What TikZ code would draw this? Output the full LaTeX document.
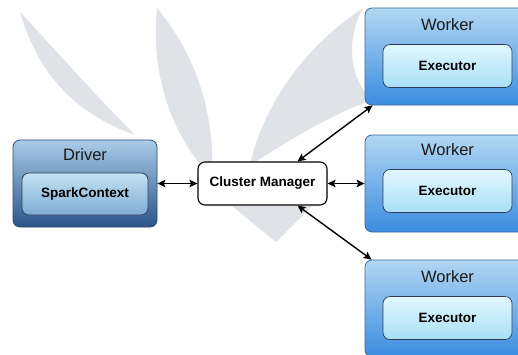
\documentclass[tikz,border=0pt]{standalone}
\usepackage{fontspec}
\setmainfont{Liberation Sans}
\usetikzlibrary{arrows.meta}
\definecolor{wm}{HTML}{DFE3E7}
\definecolor{drvtop}{HTML}{AACCE8}
\definecolor{drvbot}{HTML}{2B5489}
\definecolor{drvedge}{HTML}{2A4A72}
\definecolor{sctop}{HTML}{C4E2F3}
\definecolor{scbot}{HTML}{7FACD4}
\definecolor{wktop}{HTML}{B2D7F2}
\definecolor{wkbot}{HTML}{3A8CE0}
\definecolor{wkedge}{HTML}{3A6A9E}
\definecolor{extop}{HTML}{E2F7FD}
\definecolor{exbot}{HTML}{A8E0F7}
\definecolor{inedge}{HTML}{2C3E55}
\tikzset{
  outerbox/.style={rounded corners=7pt, line width=0.8pt, inner sep=0pt},
  driverbox/.style={outerbox, draw=drvedge, top color=drvtop, bottom color=drvbot,
     minimum width=144pt, minimum height=87pt},
  workerbox/.style={outerbox, draw=wkedge, top color=wktop, bottom color=wkbot,
     minimum width=165pt, minimum height=97pt},
  scbox/.style={rounded corners=7pt, draw=inedge, line width=0.7pt, top color=sctop, bottom color=scbot,
     minimum width=126pt, minimum height=42pt, font=\fontsize{13.5}{16}\selectfont\bfseries},
  exbox/.style={rounded corners=7pt, draw=inedge, line width=0.7pt, top color=extop, bottom color=exbot,
     minimum width=129pt, minimum height=43pt, font=\fontsize{13.5}{16}\selectfont\bfseries},
  cmbox/.style={rounded corners=7pt, draw=black, line width=1.1pt, fill=white,
     minimum width=129pt, minimum height=43pt, font=\fontsize{13.5}{16}\selectfont\bfseries},
  title/.style={font=\fontsize{16.5}{19}\selectfont, text=black!90},
  link/.style={line width=1.4pt, {Stealth[length=8pt,width=7.5pt,inset=1.5pt]}-{Stealth[length=8pt,width=7.5pt,inset=1.5pt]}}
}
\begin{document}
\begin{tikzpicture}[x=1pt,y=-1pt]
\useasboundingbox (0,0) rectangle (518,354);
\clip (0,0) rectangle (518,354);
\fill[white] (0,0) rectangle (518,354);
% faint watermark
\fill[wm] (20,12) .. controls (40,80) and (80,115) .. (135,135) .. controls (95,95) and (60,55) .. (20,12) -- cycle;
\fill[wm] (157,8) .. controls (150,80) and (175,140) .. (212,178) .. controls (215,120) and (200,60) .. (157,8) -- cycle;
\fill[wm] (363,8) .. controls (300,50) and (262,110) .. (250,165) .. controls (290,140) and (330,115) .. (372,100) .. controls (350,80) and (345,40) .. (363,8) -- cycle;
\fill[wm] (232,206) -- (276,242) -- (312,206) -- cycle;
% nodes
\node[driverbox] (drv) at (85,183.5) {};
\node[title] (drvt) at (85,155) {Driver};
\node[scbox] (sc) at (85,194) {SparkContext};
\node[cmbox] (cm) at (262.5,183.5) {Cluster Manager};
\node[workerbox] (w1) at (447.5,56.5) {};
\node[title] (w1t) at (447.5,25) {Worker};
\node[exbox] (e1) at (447.5,66) {Executor};
\node[workerbox] (w2) at (447.5,183.5) {};
\node[title] (w2t) at (447.5,150) {Worker};
\node[exbox] (e2) at (447.5,191) {Executor};
\node[workerbox] (w3) at (447.5,308.5) {};
\node[title] (w3t) at (447.5,277) {Worker};
\node[exbox] (e3) at (447.5,318) {Executor};
% connectors
\draw[link] (drv.east) -- (cm.west);
\draw[link] (cm.east) -- (w2.west);
\draw[link] ([xshift=35pt]cm.north) -- ([xshift=8pt]w1.south west);
\draw[link] ([xshift=35pt]cm.south) -- ([xshift=7pt]w3.north west);
\end{tikzpicture}
\end{document}
